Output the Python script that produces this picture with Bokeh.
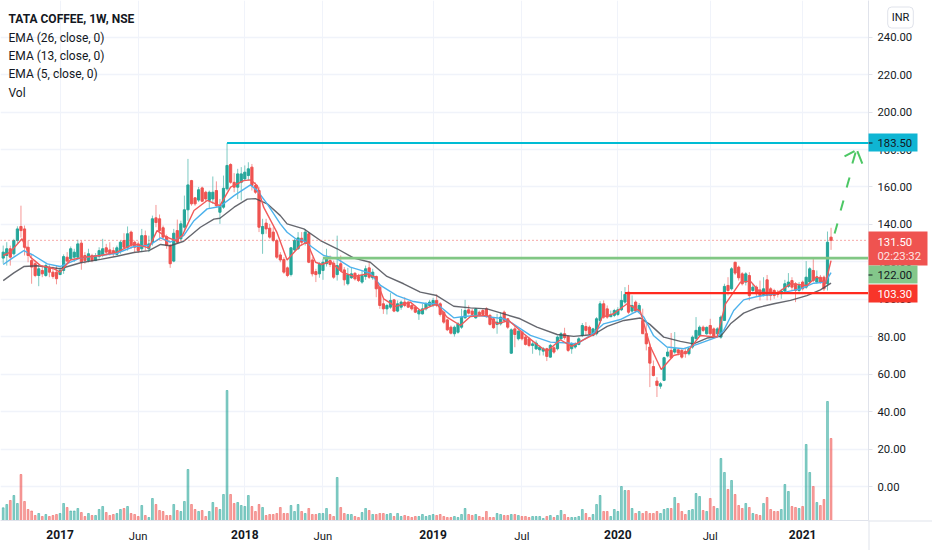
from bokeh.embed import file_html
from bokeh.layouts import column
from bokeh.resources import INLINE
from bokeh.plotting import figure
from bokeh.models import (BoxAnnotation, ColumnDataSource, FixedTicker, Grid, Label, LinearAxis,
                          NumeralTickFormatter, Range1d)

OPEN = [122,123.4,127,124.3,131.4,138.9,137.6,127.8,120.7,119,
112.7,115.4,112.7,117,114.5,114.5,113.2,115.4,122.5,121.6,
122.5,122.5,130,123.4,120.7,123.4,120.7,122.9,123.4,127.5,
126.4,126,124,126,131.4,127.8,135.9,130.5,129.6,127,
134,127,130.5,143.5,143,138.2,133.5,128.7,120.4,136.7,
132.3,138.5,147.8,163.4,154.2,153,159.5,157.2,152.8,153.6,
158.1,146.5,149.2,159,172,162.5,159.9,162.5,164.3,166.1,
170.6,160.8,158.1,135,140.7,138,135.9,131.4,123.7,121.3,
116.8,113.2,126.4,127,132.6,130.5,135,121,114.8,113.6,
115.4,119,120.7,119.3,113.2,119,115.7,108.3,111.5,113.9,
112.2,109.2,112.2,116.8,111.5,112.2,106.5,97.6,94.9,95.8,
99.7,93.7,95.8,98.5,98.5,96.7,95.8,92.2,92.2,94.9,
96.7,96.7,99.4,97.6,93.1,89,85.1,81.6,82.4,85.1,
90.1,94.4,93.7,90.1,93.1,94,94.9,91.4,89.6,86.6,
86.9,93.1,89.6,71.2,84.2,78.9,82.5,79.8,78.9,75.3,
73.5,73,72.3,73.6,69.1,74.1,73.6,78.9,81.6,80.2,
73.6,74.5,75.9,80.7,85.5,85.1,80.7,81.6,88.7,97.6,
94.9,90.7,91.4,91.9,94.4,98.5,103.8,93.7,98.5,93.7,
88.7,81.6,74.5,64.1,56.3,53.6,56.7,69.7,72.7,71.8,
73,72.7,72.2,70.9,74.5,79,80.7,85.1,81.6,86,
84.2,81.6,79.8,88.7,107.4,105.6,119.8,117.2,113.6,109.2,
112.7,104.7,106.5,105,102.6,110.4,105.6,104.7,103.8,103,
104.4,106.9,110,108.3,104.7,109.2,106.5,109.2,115.4,109.2,
111.8,111.8,108.3,133.2]

HIGH = [128.7,130.5,128.7,132.3,139,150,139.4,131.4,124.3,120.7,
118,118,119,118.6,117.5,118,117,124,125.2,128.2,
127,131.8,131.4,125.2,127,124.3,124.7,127.8,132.3,129.6,
130.5,127.8,128.7,131.4,135.3,138.9,136.7,131.4,130.9,137.6,
136.7,134,144.7,150.4,145.3,139.4,134.6,129.6,137.6,142.6,
142,155.4,175,163.8,154.5,160,160.2,158,158.1,165.6,
163,153.6,166.1,183.5,172.7,167.4,169.7,170.6,171.5,173.2,
172.3,162.5,159.9,143,143,140.3,138.5,132.3,125.2,122.5,
117.5,127.8,132.3,135.9,135.9,137.6,135.9,122.5,116.3,119.8,
121.6,127,123.4,120.7,134,123.4,117.2,116.8,117.2,114.5,
113.6,115.4,118,119.8,116.3,112.7,107.4,100.2,97.6,103.3,
100.2,99.4,99.4,101.1,99,97.6,96.7,94.9,97.6,98.5,
99.7,100.8,102.6,98.5,94,89.6,86,86,87.8,94.9,
99.7,96.7,95,95.4,94,94.9,95.8,92.2,90.5,92.2,
93.1,94,90,84.5,86,83.4,83.4,80.7,79.8,78,
78,75.3,74.5,74.1,76.2,75,80.7,82.5,84.8,80.7,
77.1,77.1,79.8,87.3,87.8,86,84.8,90.5,99,99.4,
96.7,94,94.9,95.8,104.4,106.5,107.7,102.1,99.4,98,
95,88.7,76.2,67.3,58.4,55.8,69.3,74,82,82.5,
73.6,73.6,73.6,74.5,80.7,90.5,86,86,85.5,89.6,
85,85.1,91.4,108.3,111.8,117.2,120,118,114.5,114.5,
114.5,108.3,107.4,110,111.8,113,106.5,105.6,105,105.6,
110.4,114,111.8,109.2,109.2,110,120.4,117.2,121.6,115.4,
113,112.7,136.2,138.2]

LOW = [119,118,118,123.4,129.6,133,123.4,119.8,108.3,111.8,
107,111.8,112,111.8,111,108,113,113.6,119,120.7,
120,121.6,115.8,119,119.8,119.8,120.4,121.6,122.5,123.4,
123.4,122.9,123.4,124.3,127,126,127,125.2,124.7,125.2,
126,125.2,128.7,138.5,131.4,131.4,127,116.8,119.8,129.6,
131.4,136.7,142,150,150,152,151.9,152,148.3,151,
149.2,140.3,148.3,158,161.7,157.2,153.6,152.8,163.4,163.4,
158.1,156.3,135.9,124.3,135,132.3,130.5,121.6,119.8,113.6,
111.8,112.2,125.7,126.4,128.7,128.7,119.3,112.2,109.2,111.5,
110.4,117.5,117.2,110.9,110,114.5,107.4,107.4,110.9,110,
109.2,108.3,110.4,110.9,110.4,101.1,94.9,92.2,91.9,94.9,
93.1,93.1,94.4,95.8,95.4,94,92.6,89,91.9,94,
96.2,95.8,95.8,90.8,86.9,83,81.2,80.1,81.6,84.2,
89.6,91.9,91.4,89.6,90.8,91.4,90.1,86,84.2,81.6,
86,87.8,84.2,70.8,74.4,78,78,75.3,74.4,70.9,
73,70,70,67,68.8,70.9,72.7,78,78.4,71.8,
70.9,73.6,75.4,79.8,80.7,80.7,80.2,80.7,86.9,89.6,
89.6,90.5,90.5,91,93.7,97.6,92.2,92.6,92.8,92.8,
85,72.7,53.1,58.8,47.8,52.2,56.3,69,68.3,70.9,
70,68.3,68.8,70,73.6,78,79.8,82.5,81,80.7,
79,80.7,78.9,88.7,102,104.7,113,110,107.4,107.4,
99.4,103.8,101.2,99.4,101.5,99.4,99.4,100.3,101,100.3,
103.8,106.1,104.7,98.5,103.8,104.7,105.6,108.3,109.2,108.3,
108.3,104.4,104.7,126.4]

CLOSE = [125.2,127,122.5,131.4,137.6,136.7,127.8,123.4,117.2,112.7,
116.3,113.6,118,114.5,112.2,111,115.4,122.8,120.4,127,
125.2,129.6,120,120.7,124.3,120.7,123.4,126,127,125.2,
124.3,124.3,127.5,130.5,127.8,135,128.7,127.8,126,134,
128.7,129.6,143,141,136.7,133.2,128.7,119,135.3,130.5,
140.3,147.8,161.1,151,151,158.5,152.4,153.6,157.2,157.2,
150,150,159.3,171.5,162.5,159.9,167,167,167.9,169.7,
160.8,157.2,138.5,138.9,137.6,133.2,131.4,122.5,121,114.5,
112.7,127.5,131.4,132.8,130.5,135.9,119.8,113.6,113.2,118.6,
119.8,121.6,118.6,111.8,118,115.4,110.4,113.2,113.6,110.9,
110,112.7,116.3,111.8,114.5,105.6,96.7,94.9,96.7,99.4,
93.7,97.6,98.5,96.7,95.8,94.9,93.1,94,94.9,97.6,
98.5,99.4,96.7,91.9,87.8,83.7,81.9,85.1,86.9,90.5,
94,92.6,91.9,94.9,91.4,91.9,90.8,86.6,84.8,87.8,
90.5,88.7,85.1,83.7,81.2,83,78.9,75.9,75.3,76.2,
76.6,74.4,73.6,69.5,75.4,71.8,79.8,81.6,79.5,72.7,
76.2,76.2,78.9,86,83.4,81.6,84.2,89.6,97.6,90.5,
90.5,91.7,94,94.4,99.4,102.6,93.1,96.7,93.7,96.7,
81.6,76.2,65.9,59.3,54,54.9,68.8,71.8,68.8,73.6,
71.3,69.1,70.9,73.6,79.8,83.4,85.1,83.4,85,81.6,
79.8,84.2,90.5,106.9,104.7,116.3,114,111.5,108.3,113.6,
102,106.5,103,102,105.6,102,102,102,102.6,104.4,
108.3,109.2,106.5,104.7,107.4,105.6,111.8,116.3,110,111.8,
109.2,105.6,130.5,131.5]

VOLUME = [12.7,16,20,25,17,46,19,11,9.5,5,
7,4,6,4,5,6,7,17,13,9.5,
9.5,12,8,4,7,5,5,11,14,8,
5,6,7,11,12,14,7,6,4,15,
5,3,22,16,10,9,5,5,16,10,
9,19,51,16,11,9,10,4,9,18,
13,11,26,130,26,17,18,15,14,25,
14,9,16,13,5,6,6,7,13,7,
7,15,9,16,9,7,12,6,6,7,
7,12,6,4,43,13,7,6,6,4,
3,8,12,10,6,6,7,7,6,7,
4,7,4,5,4,3,4,4,6,4,
5,6,5,6,4,3,3,4,3,6,
12,6,5,6,4,3,9,3,3,7,
6,5,5,6,6,5,4,4,3,4,
4,4,2,4,5,3,5,10,6,3,
3,3,4,11,7,3,6,16,25,9,
9,4,11,9,34,30,30,12,7,9,
7,9,7,7,9,7,11,12,12,23,
17,9,6,10,11,27,24,10,9,22,
14,12,62,48,31,40,26,15,12,17,
13,7,6,5,17,23,11,9,9,11,
36,29,14,13,12,14,76,48,34,18,
15,21,119,82]

EMA26_BARS = [0,3,5.8,9.6,16,21.8,27.4,32,36.8,41,44.3,47,50.8,55.5,59.3,61,65,68.7,71,74.3,78,
79.9,84.6,89.3,94,98.7,103.3,108,112.7,117.4,122,126.8,131.5,136.2,140.9,145.5,150.2,155.9,160.6,
166.2,170,174.7,179.3,182,185.9,190.6,194.3,198.1,201.9,204.7,208.4,212.2,216.9,221.6,226.2,230,233]
EMA26_VALUES = [110,114.1,117.5,117.9,116.3,119.5,121.3,123,125,126,129.3,128.6,131,138.5,142.8,143.3,149.2,153.5,153.8,151,144.7,
140.3,137.6,131.4,127,122,119.8,112.2,108.3,103.8,102,96.3,95.4,94.9,92.2,89.6,85.1,81.2,80.2,
81.2,85.5,88.7,90,86.6,79.8,77.5,76.2,79.3,80.2,86.9,92.6,95.5,97.6,99.4,102,105,108.6]

EMA13_BARS = [0,3,5.8,8.6,12.4,16,21.8,27.4,32,36.8,41,44.3,47,50.8,53.7,57.4,61,65,69.6,71.5,74.3,78,
79.9,82.7,84.6,87,90.2,94,97.7,103.3,106.2,110.8,115.5,119.3,122,126.8,129.6,133.4,140.9,143.2,148.4,
154,157.8,161.5,165.3,169,173.7,178.4,180.3,183,186.8,191.5,195.3,200.9,202.8,205.6,208.4,212.2,218.7,224.4,228.1,231.4,233]
EMA13_VALUES = [118.6,122.5,126,123.4,118.9,117.5,122.1,123.4,124.6,128.2,128.7,132.8,130.5,134,142,148.3,149.6,155.4,161.1,158.1,151,140.3,
135.8,131.8,131.4,127.8,123.4,121.6,117.2,114,107.4,102,98.8,97.6,97.6,90.1,90.8,91.4,89.6,87.3,80.7,
77.1,76.8,76.2,80.7,86.9,89.2,93.7,90.5,80.7,74.5,73.6,75.9,79.8,83.4,94,99.7,101.5,103.3,105.6,108.6,109.2,114.2]

EMA5_BARS = [0,2,5.3,7.7,10.5,14.3,16,18.9,22.7,27.4,32,36.8,41,43.3,46,48.5,50.4,53.7,57.4,61,64,67.7,69.6,71.5,73.3,77,
79.9,83.6,85.5,87.9,89.7,92,95.4,98.7,102.4,104.7,107.1,110.4,114.6,117.4,122,124.9,128.7,131.5,136.2,139,142.3,146.5,150.2,
153,156.8,160,163,166.7,168.6,171.8,175.6,179.3,182.2,185.2,188.7,192.5,196.2,200.9,203.3,207.5,210.3,213,217.8,221.6,226.2,229,231.4,233]
EMA5_VALUES = [123.4,125.2,132.3,122.5,118,116.3,114.5,121,122.5,123.4,125.2,129.6,127.5,136.7,133.2,131.4,134,147.4,152.8,150,159.9,163.4,163.8,160.8,149.2,135.9,
121,128.7,130.5,119.8,118.6,120.4,114.5,112.2,113.6,111.8,100.2,96.2,98.5,94,97.6,90.5,86,90.8,91.4,86.9,88.7,81.6,75.9,
72.1,78.4,74.8,78,81.6,90.5,92.3,97.6,93.7,74.5,62.5,70,71.8,80.7,79.8,97.6,109.2,109.7,103.8,103.3,108.3,107.4,112.2,108.3,120.7]

PRICE_TICKS = [0,20,40,60,80,100,120,140,160,180,200,220,240]
TIME_TICKS = [16,38,68,90,121,146,173,199,225]
TIME_LABELS = ["2017","Jun","2018","Jun","2019","Jul","2020","Jul","2021"]
LEVEL_CYAN, LEVEL_GREEN, LEVEL_RED, LAST_PRICE = 183.5, 122.0, 103.3, 131.5
LEVEL_CYAN_START, LEVEL_GREEN_START, LEVEL_RED_START = 63, 90, 175

ARROW_X = [[234.0,234.8],[235.7,236.5],[237.4,238.2],[239.0,239.9],[236.8,239.6],[241.8,240.4]]
ARROW_Y = [[135.1,140.5],[147.4,152.8],[159.7,165.1],[172.5,178.4],[176.3,179.2],[172.5,179.2]]

W, H, FW, FH = 932, 550, 868, 520
BAR_PX, BAR0_PX = 3.553, 2.7
PX_PER_UNIT, ZERO_PY = 1.872, 486.0
xp = lambda px: (px - BAR0_PX) / BAR_PX
yp = lambda py: (ZERO_PY - py) / PX_PER_UNIT

p = figure(width=W, height=H, output_backend="svg", toolbar_location=None,
           x_range=Range1d(xp(0), xp(FW)), y_range=Range1d(yp(FH), yp(0)),
           x_axis_location=None, y_axis_location=None,
           min_border_left=0, min_border_top=0, min_border_right=W-FW, min_border_bottom=H-FH,
           background_fill_color="white", border_fill_alpha=0, outline_line_color=None)
p.grid.visible = False
p.extra_y_ranges["vol"] = Range1d(0, FH)

GRID = "#f0f3fa"; AXC = "#e0e3eb"; TXT = "#131722"; FONT = "Roboto"; FSZ = "11.3px"
yaxis = LinearAxis(ticker=FixedTicker(ticks=PRICE_TICKS), formatter=NumeralTickFormatter(format="0.00"))
xaxis = LinearAxis(ticker=FixedTicker(ticks=TIME_TICKS),
                   major_label_overrides={t: (l if not l.isdigit() else " ") for t, l in zip(TIME_TICKS, TIME_LABELS)})
for a in (yaxis, xaxis):
    a.axis_line_color = AXC; a.major_tick_line_color = AXC; a.minor_tick_line_color = None
    a.major_tick_out = 4; a.major_tick_in = 0
    a.major_label_text_font = FONT; a.major_label_text_font_size = FSZ
    a.major_label_text_color = TXT; a.major_label_standoff = 5
xaxis.major_tick_line_color = None
p.add_layout(yaxis, "right"); p.add_layout(xaxis, "below")
p.add_layout(Grid(dimension=0, ticker=xaxis.ticker, grid_line_color=GRID, grid_line_width=1, level="underlay"))
p.add_layout(Grid(dimension=1, ticker=yaxis.ticker, grid_line_color=GRID, grid_line_width=1.5, level="underlay"))

UP, DOWN = "#26a69a", "#ef5350"
n = len(CLOSE)
assert all(len(a) == n for a in (OPEN, HIGH, LOW, VOLUME)) and n == 234
src = ColumnDataSource(dict(
    x=list(range(n)), o=OPEN, h=HIGH, l=LOW, c=CLOSE, v=VOLUME,
    col=[UP if c >= o else DOWN for o, c in zip(OPEN, CLOSE)],
    top=[max(o, c) for o, c in zip(OPEN, CLOSE)], bot=[min(o, c) for o, c in zip(OPEN, CLOSE)]))

p.vbar(x="x", bottom=0, top="v", width=0.5, color="col", alpha=0.5, source=src, y_range_name="vol")
p.segment(x0="x", x1="x", y0="l", y1="h", color="col", alpha=0.6, line_width=1, source=src)
p.vbar(x="x", bottom="bot", top="top", width=0.62, color="col", source=src)

p.line(EMA26_BARS, EMA26_VALUES, line_color="#4a4c55", line_alpha=0.85, line_width=1.4)
p.line(EMA13_BARS, EMA13_VALUES, line_color="#4db2ec", line_width=1.4)
p.line(EMA5_BARS, EMA5_VALUES, line_color="#f15a5a", line_width=1.4)

END = xp(FW)
p.line([xp(0), END], [LAST_PRICE]*2, line_color=DOWN, line_width=1, line_dash=[1, 3])
p.line([LEVEL_GREEN_START, END], [LEVEL_GREEN]*2, line_color="#81c784", line_width=2.6)
p.line([LEVEL_RED_START, END], [LEVEL_RED]*2, line_color="#ff2a1f", line_width=2.2)
p.line([LEVEL_CYAN_START, END], [LEVEL_CYAN]*2, line_color="#00bcd4", line_width=2.2)
p.multi_line(ARROW_X, ARROW_Y, line_color="#4cc764", line_width=2)

# Transparent full-size layer on top: price tags, year labels, legend text.
q = figure(width=W, height=H, output_backend="svg", toolbar_location=None,
           frame_width=W, frame_height=H,
           x_range=Range1d(0, W), y_range=Range1d(H, 0),
           x_axis_location=None, y_axis_location=None,
           min_border_left=0, min_border_top=0, min_border_right=0, min_border_bottom=0,
           background_fill_alpha=0, border_fill_alpha=0, outline_line_color=None)
q.grid.visible = False
q.margin = (-H, 0, 0, 0)
q.styles = {"position": "relative", "z-index": "10"}

def box(x0, x1, y0, y1, col):
    q.add_layout(BoxAnnotation(left=x0, right=x1, top=y0, bottom=y1,
                               fill_color=col, fill_alpha=1, line_color=None, level="annotation"))

def text(px, py, s, col=TXT, size=FSZ, style="normal", align="left", font=FONT):
    q.add_layout(Label(x=px, y=py, text=s, text_color=col, text_font=font,
                       text_font_size=size, text_font_style=style, text_align=align, text_baseline="middle",
                       level="annotation"))

box(868, 917, 133, 151, "#0fb5d3")
box(868, 927, 231, 265, "#ef5350")
box(868, 917, 265, 283, "#83c78a")
box(868, 917, 284, 302, "#f8352a")
box(868, 872, 142, 143, TXT)
box(868, 872, 274, 275, TXT)
text(877, 142.5, "183.50")
text(877, 241, "131.50", "white")
text(877, 256, "02:23:32", "#fde3e3")
text(877, 274.5, "122.00")
text(877, 293, "103.30", "white")

box(868, 869, 520, H, AXC)
box(868, W, 520, 521, AXC)

for t, l in zip(TIME_TICKS, TIME_LABELS):
    if l.isdigit():
        text(BAR0_PX + BAR_PX*t, 534, l, size="12px", style="bold", align="center")

text(8, 18, "TATA COFFEE, 1W, NSE", style="bold", size="12px")
for y, s in zip((37, 55, 73, 92), ("EMA (26, close, 0)", "EMA (13, close, 0)", "EMA (5, close, 0)", "Vol")):
    text(8, y, s, size="12px")

q.add_layout(Label(x=900, y=17, text="INR", text_color=TXT, text_font=FONT,
                   text_font_size="11px", text_align="center", text_baseline="middle", border_line_color=AXC,
                   border_line_width=1, background_fill_color="white", padding=4, border_radius=4,
                   level="annotation"))

open("out.html", "w").write(file_html(column(p, q, spacing=0), INLINE))
